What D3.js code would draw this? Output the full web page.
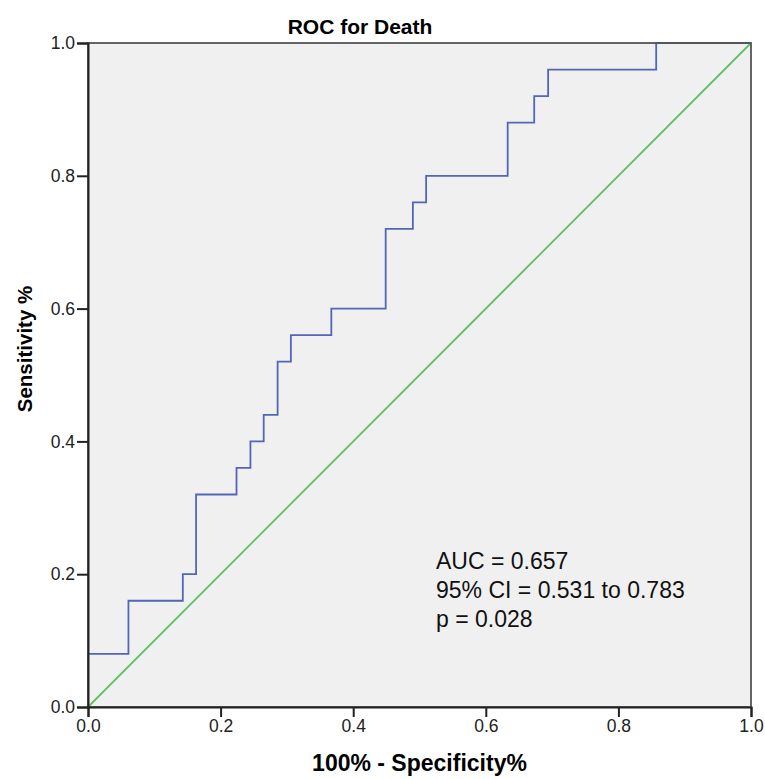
<!DOCTYPE html>
<html>
<head>
<meta charset="utf-8">
<script src="https://cdn.jsdelivr.net/npm/d3@7"></script>
<style>
  body { margin: 0; background: #fff; }
  text { font-family: "Liberation Sans", Arial, sans-serif; }
</style>
</head>
<body>
<script>
// ROC curve points (1 - specificity, sensitivity), step curve
var fpr = [0, 0, 0.061, 0.061, 0.143, 0.143, 0.163, 0.163, 0.224, 0.224, 0.245, 0.245,
           0.265, 0.265, 0.286, 0.286, 0.306, 0.306, 0.367, 0.367, 0.449, 0.449,
           0.490, 0.490, 0.510, 0.510, 0.633, 0.633, 0.673, 0.673, 0.694, 0.694,
           0.857, 0.857, 1.0];
var tpr = [0, 0.08, 0.08, 0.16, 0.16, 0.20, 0.20, 0.32, 0.32, 0.36, 0.36, 0.40,
           0.40, 0.44, 0.44, 0.52, 0.52, 0.56, 0.56, 0.60, 0.60, 0.72,
           0.72, 0.76, 0.76, 0.80, 0.80, 0.88, 0.88, 0.92, 0.92, 0.96,
           0.96, 1.0, 1.0];
var refLine = [0, 1];
var tickValues = [0, 0.2, 0.4, 0.6, 0.8, 1.0];
var statLines = ["AUC = 0.657", "95% CI = 0.531 to 0.783", "p = 0.028"];

var width = 765, height = 779;
var margin = {top: 43, right: 14, bottom: 72, left: 88};

var svg = d3.select('body').append('svg')
  .attr('width', width)
  .attr('height', height);

var x = d3.scaleLinear().domain([0, 1]).range([margin.left, width - margin.right]);
var y = d3.scaleLinear().domain([0, 1]).range([height - margin.bottom, margin.top]);

// plot background
svg.append('rect')
  .attr('x', x(0)).attr('y', y(1))
  .attr('width', x(1) - x(0)).attr('height', y(0) - y(1))
  .attr('fill', '#f0f0f0');

// diagonal reference line
svg.append('line')
  .attr('x1', x(refLine[0])).attr('y1', y(refLine[0]))
  .attr('x2', x(refLine[1])).attr('y2', y(refLine[1]))
  .attr('stroke', '#5cc26a').attr('stroke-width', 1.8);

// ROC curve
var pts = fpr.map(function(d, i) { return [d, tpr[i]]; });
svg.append('path')
  .datum(pts)
  .attr('fill', 'none')
  .attr('stroke', '#5266b6')
  .attr('stroke-width', 1.8)
  .attr('d', d3.line().x(function(d) { return x(d[0]); }).y(function(d) { return y(d[1]); }));

// frame
svg.append('rect')
  .attr('x', x(0)).attr('y', y(1))
  .attr('width', x(1) - x(0)).attr('height', y(0) - y(1))
  .attr('fill', 'none')
  .attr('stroke', '#555').attr('stroke-width', 1.8);

// axes
var xAxis = svg.append('g')
  .attr('transform', 'translate(0,' + y(0) + ')')
  .call(d3.axisBottom(x).tickValues(tickValues).tickFormat(d3.format('.1f')).tickSize(10).tickPadding(3));
var yAxis = svg.append('g')
  .attr('transform', 'translate(' + x(0) + ',0)')
  .call(d3.axisLeft(y).tickValues(tickValues).tickFormat(d3.format('.1f')).tickSize(11).tickPadding(2));

[xAxis, yAxis].forEach(function(g) {
  g.select('.domain').attr('stroke', '#222').attr('stroke-width', 2);
  g.selectAll('.tick line').attr('stroke', '#222').attr('stroke-width', 2);
  g.selectAll('.tick text')
    .attr('fill', '#222')
    .style('font-size', '17.5px')
    .style('font-family', '"Liberation Sans", Arial, sans-serif');
});

// title
svg.append('text')
  .attr('x', 360).attr('y', 34)
  .attr('text-anchor', 'middle')
  .style('font-size', '21px').style('font-weight', 'bold')
  .text('ROC for Death');

// axis titles
svg.append('text')
  .attr('x', (x(0) + x(1)) / 2).attr('y', 771)
  .attr('text-anchor', 'middle')
  .style('font-size', '23px').style('font-weight', 'bold')
  .text('100% - Specificity%');

svg.append('text')
  .attr('transform', 'translate(32,' + 349 + ') rotate(-90)')
  .attr('text-anchor', 'middle')
  .style('font-size', '20.5px').style('font-weight', 'bold')
  .text('Sensitivity %');

// statistics annotation
svg.selectAll('.stat')
  .data(statLines)
  .enter().append('text')
  .attr('class', 'stat')
  .attr('x', 436)
  .attr('y', function(d, i) { return 569 + i * 29; })
  .attr('fill', '#111')
  .style('font-size', '23px')
  .text(function(d) { return d; });
</script>
</body>
</html>
